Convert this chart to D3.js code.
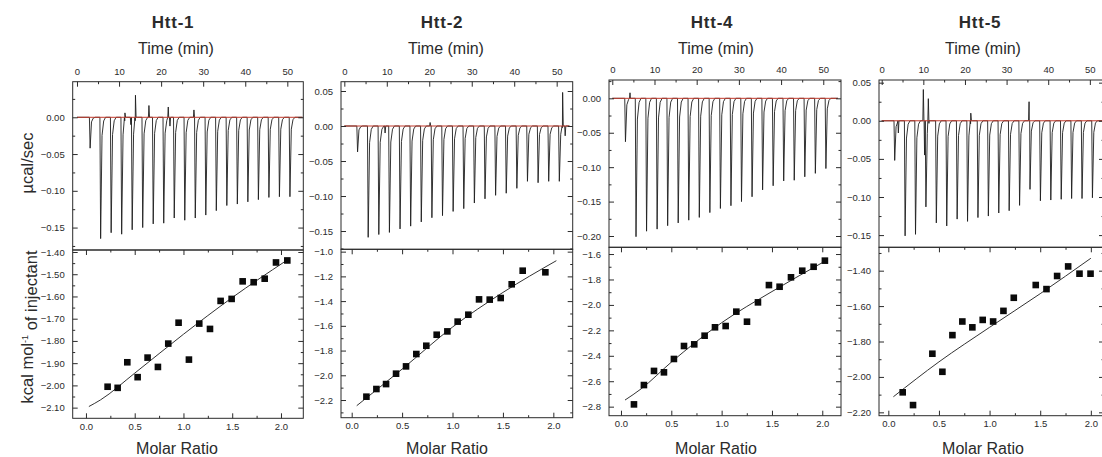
<!DOCTYPE html>
<html><head><meta charset="utf-8">
<script src="https://cdn.jsdelivr.net/npm/d3@7"></script>
<style>body{margin:0;background:#fff}svg{display:block}text{font-family:"Liberation Sans",Arial,sans-serif;fill:#2b2b2b}</style>
</head><body><svg id="c" width="1102" height="457"></svg>
<script>
// ---------- data ----------
const titles = ["Htt-1", "Htt-2", "Htt-4", "Htt-5"];
const injTimes = [3.0,5.5,8.0,10.5,13.0,15.5,18.0,20.5,23.0,25.5,28.0,30.5,33.0,35.5,38.0,40.5,43.0,45.5,48.0,50.5];
const timeTicks = [0,10,20,30,40,50];
const ratioTicks = [0,0.5,1.0,1.5,2.0];

const htt1Peaks = [-0.042,-0.165,-0.157,-0.159,-0.153,-0.150,-0.145,-0.144,-0.137,-0.140,-0.137,-0.133,-0.127,-0.120,-0.118,-0.115,-0.112,-0.109,-0.108,-0.108];
const htt2Peaks = [-0.037,-0.159,-0.155,-0.152,-0.147,-0.143,-0.137,-0.131,-0.128,-0.122,-0.118,-0.110,-0.104,-0.099,-0.096,-0.089,-0.079,-0.081,-0.079,-0.079];
const htt4Peaks = [-0.063,-0.201,-0.193,-0.190,-0.185,-0.181,-0.177,-0.173,-0.166,-0.160,-0.156,-0.150,-0.143,-0.133,-0.127,-0.120,-0.119,-0.114,-0.109,-0.102];
const htt5Peaks = [-0.052,-0.151,-0.149,-0.113,-0.134,-0.138,-0.129,-0.132,-0.127,-0.125,-0.121,-0.118,-0.111,-0.090,-0.105,-0.104,-0.103,-0.102,-0.102,-0.101];

const htt1Spikes = [[11.4,0.006],[12.8,-0.010],[13.9,0.030],[17.1,0.016],[21.7,0.014],[22.1,-0.012],[27.8,0.010]];
const htt2Spikes = [[9.6,-0.010],[20.2,0.005],[51.4,0.048],[52.0,-0.014]];
const htt4Spikes = [[4.2,0.008]];
const htt5Spikes = [[4.0,-0.016],[10.0,0.041],[10.3,-0.045],[11.2,0.029],[21.4,0.010],[35.4,0.025]];

const htt1Ratio = [0.222,0.325,0.424,0.530,0.632,0.738,0.844,0.950,1.056,1.162,1.272,1.381,1.494,1.607,1.720,1.833,1.949,2.065];
const htt1Heat  = [-2.006,-2.011,-1.896,-1.963,-1.875,-1.917,-1.812,-1.718,-1.884,-1.722,-1.746,-1.620,-1.611,-1.532,-1.536,-1.520,-1.447,-1.438];
const htt2Ratio = [0.146,0.245,0.341,0.440,0.539,0.641,0.740,0.843,0.949,1.051,1.157,1.263,1.369,1.478,1.587,1.696,1.921];
const htt2Heat  = [-2.173,-2.111,-2.071,-1.987,-1.928,-1.828,-1.761,-1.672,-1.645,-1.566,-1.510,-1.386,-1.388,-1.375,-1.264,-1.154,-1.167];
const htt4Ratio = [0.129,0.228,0.328,0.427,0.526,0.626,0.728,0.831,0.934,1.040,1.146,1.252,1.361,1.470,1.576,1.689,1.801,1.914,2.026];
const htt4Heat  = [-2.782,-2.630,-2.519,-2.530,-2.425,-2.323,-2.310,-2.242,-2.176,-2.166,-2.053,-2.132,-1.980,-1.844,-1.857,-1.783,-1.731,-1.700,-1.652];
const htt5Ratio = [0.142,0.244,0.435,0.534,0.633,0.731,0.830,0.932,1.035,1.137,1.239,1.456,1.562,1.667,1.776,1.888,1.997];
const htt5Heat  = [-2.087,-2.159,-1.869,-1.971,-1.764,-1.687,-1.720,-1.678,-1.687,-1.627,-1.553,-1.481,-1.504,-1.430,-1.376,-1.417,-1.417];

const htt1FitX = [0.03,0.15,0.5,1.0,1.5,2.05];
const htt1FitY = [-2.095,-2.065,-1.945,-1.770,-1.605,-1.440];
const htt2FitX = [0.05,0.5,1.0,1.5,2.03];
const htt2FitY = [-2.246,-1.950,-1.610,-1.330,-1.073];
const htt4FitX = [0.04,0.2,0.5,1.0,1.5,2.04];
const htt4FitY = [-2.748,-2.660,-2.450,-2.140,-1.895,-1.650];
const htt5FitX = [0.05,0.5,1.0,1.5,2.0];
const htt5FitY = [-2.112,-1.915,-1.720,-1.530,-1.330];

const rawTicks1 = [0.00,-0.05,-0.10,-0.15];
const rawTicks2 = [0.05,0.00,-0.05,-0.10,-0.15];
const rawTicks4 = [0.00,-0.05,-0.10,-0.15,-0.20];
const rawTicks5 = [0.05,0.00,-0.05,-0.10,-0.15];
const heatTicks1 = [-1.4,-1.5,-1.6,-1.7,-1.8,-1.9,-2.0,-2.1];
const heatTicks2 = [-1.0,-1.2,-1.4,-1.6,-1.8,-2.0,-2.2];
const heatTicks4 = [-1.6,-1.8,-2.0,-2.2,-2.4,-2.6,-2.8];
const heatTicks5 = [-1.4,-1.6,-1.8,-2.0,-2.2];

// ---------- layout ----------
const panels = [
 {title:titles[0], peaks:htt1Peaks, spikes:htt1Spikes, mr:htt1Ratio, heat:htt1Heat, fx:htt1FitX, fy:htt1FitY,
  rawTicks:rawTicks1, heatTicks:heatTicks1, heatFmt:".2f", hMinor:0.05,
  x0:72.7, x1:303.3, yT:81.7, yM:250, yB:418.3, tDom:[-1.02,53.8], tEnd:53.6, rDom:[-0.1805,0.0484],
  mDom:[-0.136,2.229], hDom:[-2.148,-1.391], titleX:173, timeX:176, molX:177},
 {title:titles[1], peaks:htt2Peaks, spikes:htt2Spikes, mr:htt2Ratio, heat:htt2Heat, fx:htt2FitX, fy:htt2FitY,
  rawTicks:rawTicks2, heatTicks:heatTicks2, heatFmt:".1f", hMinor:0.1,
  x0:341, x1:572.7, yT:81.7, yM:249.3, yB:417.7, tDom:[-0.78,53.77], tEnd:53.0, rDom:[-0.1761,0.0633],
  mDom:[-0.106,2.192], hDom:[-2.343,-0.981], titleX:442, timeX:446, molX:447},
 {title:titles[2], peaks:htt4Peaks, spikes:htt4Spikes, mr:htt4Ratio, heat:htt4Heat, fx:htt4FitX, fy:htt4FitY,
  rawTicks:rawTicks4, heatTicks:heatTicks4, heatFmt:".1f", hMinor:0.1,
  x0:609, x1:841, yT:80, yM:247.3, yB:415.7, tDom:[-0.78,54.2], tEnd:53.5, rDom:[-0.2164,0.0266],
  mDom:[-0.119,2.186], hDom:[-2.871,-1.547], titleX:712, timeX:716, molX:716},
 {title:titles[3], peaks:htt5Peaks, spikes:htt5Spikes, mr:htt5Ratio, heat:htt5Heat, fx:htt5FitX, fy:htt5FitY,
  rawTicks:rawTicks5, heatTicks:heatTicks5, heatFmt:".2f", hMinor:0.1,
  x0:879, x1:1104, yT:80, yM:247.3, yB:415.7, tDom:[-0.65,53.4], tEnd:53.4, rDom:[-0.166,0.0535],
  mDom:[-0.092,2.13], hDom:[-2.219,-1.268], titleX:980, timeX:983, molX:983}
];

const svg = d3.select("#c");
const defs = svg.append("defs");
const ink = "#2b2b2b";
const minorVals = (dom, step) => { const a=[]; const lo=Math.ceil(Math.min(...dom)/step-1e-6), hi=Math.floor(Math.max(...dom)/step+1e-6); for(let k=lo;k<=hi;k++) a.push(+(k*step).toFixed(6)); return a; };

function styleAxis(sel, labelSize){
  sel.select(".domain").remove();
  sel.selectAll(".tick line").attr("stroke", ink).attr("stroke-width", 1);
  sel.selectAll(".tick text").attr("fill", "#333").style("font-size", labelSize+"px");
}

panels.forEach((p, i) => {
  const g = svg.append("g");
  const tx = d3.scaleLinear().domain(p.tDom).range([p.x0, p.x1]);
  const ry = d3.scaleLinear().domain(p.rDom).range([p.yM, p.yT]);
  const mx = d3.scaleLinear().domain(p.mDom).range([p.x0, p.x1]);
  const hy = d3.scaleLinear().domain(p.hDom).range([p.yB, p.yM]);

  const cid = "clip" + i, cid2 = "clipb" + i;
  defs.append("clipPath").attr("id", cid).append("rect").attr("x", p.x0).attr("y", p.yT).attr("width", p.x1 - p.x0).attr("height", p.yM - p.yT);
  defs.append("clipPath").attr("id", cid2).append("rect").attr("x", p.x0).attr("y", p.yM).attr("width", p.x1 - p.x0).attr("height", p.yB - p.yM);

  // thermogram trace
  const pts = [[0, 0]];
  injTimes.forEach((t, k) => {
    const d = p.peaks[k];
    pts.push([t - 0.05, 0], [t + 0.12, d], [t + 0.45, d * 0.15], [t + 0.85, d * 0.03], [t + 1.3, 0]);
  });
  p.spikes.forEach(([t, v]) => { pts.push([t - 0.12, 0], [t, v], [t + 0.15, 0]); });
  pts.push([p.tEnd, 0]);
  pts.sort((a, b) => a[0] - b[0]);
  const line = d3.line().x(d => tx(d[0])).y(d => ry(d[1]));
  g.append("path").attr("clip-path", `url(#${cid})`).attr("d", line(pts))
    .attr("fill", "none").attr("stroke", "#1e1e1e").attr("stroke-width", 0.9).attr("stroke-linejoin", "round");
  g.append("path").attr("clip-path", `url(#${cid})`).attr("d", line([[0, 0], [p.tEnd, 0]]))
    .attr("fill", "none").attr("stroke", "#c0392b").attr("stroke-width", 1);

  // isotherm fit + points
  const fit = p.fx.map((x, k) => [x, p.fy[k]]);
  g.append("path").attr("clip-path", `url(#${cid2})`)
    .attr("d", d3.line().x(d => mx(d[0])).y(d => hy(d[1])).curve(d3.curveMonotoneX)(fit))
    .attr("fill", "none").attr("stroke", "#333").attr("stroke-width", 1);
  const s = 6.6;
  g.selectAll("rect.pt").data(p.mr.map((x, k) => [x, p.heat[k]])).join("rect").attr("class", "pt")
    .attr("x", d => mx(d[0]) - s / 2).attr("y", d => hy(d[1]) - s / 2).attr("width", s).attr("height", s).attr("fill", "#0a0a0a");

  // boxes
  g.append("rect").attr("x", p.x0).attr("y", p.yT).attr("width", p.x1 - p.x0).attr("height", p.yM - p.yT)
    .attr("fill", "none").attr("stroke", ink).attr("stroke-width", 1);
  g.append("rect").attr("x", p.x0).attr("y", p.yM).attr("width", p.x1 - p.x0).attr("height", p.yB - p.yM)
    .attr("fill", "none").attr("stroke", ink).attr("stroke-width", 1);

  const LS = 9.5;
  // top panel axes
  g.append("g").attr("transform", `translate(0,${p.yT})`).call(d3.axisTop(tx).tickValues(timeTicks).tickSize(-5).tickPadding(7).tickFormat(d3.format("d"))).call(a => styleAxis(a, LS));
  g.append("g").attr("transform", `translate(0,${p.yT})`).call(d3.axisTop(tx).tickValues(minorVals(p.tDom, 5).filter(v => v % 10 !== 0)).tickSize(-2.5).tickFormat("")).call(a => styleAxis(a, LS));
  g.append("g").attr("transform", `translate(${p.x0},0)`).call(d3.axisLeft(ry).tickValues(p.rawTicks).tickSize(-5).tickPadding(8).tickFormat(d3.format(".2f"))).call(a => styleAxis(a, LS));
  const rMinor = minorVals(p.rDom, 0.025).filter(v => Math.abs(Math.round(v / 0.05) * 0.05 - v) > 1e-6);
  g.append("g").attr("transform", `translate(${p.x0},0)`).call(d3.axisLeft(ry).tickValues(rMinor).tickSize(-2.5).tickFormat("")).call(a => styleAxis(a, LS));
  g.append("g").attr("transform", `translate(${p.x1},0)`).call(d3.axisRight(ry).tickValues(p.rawTicks).tickSize(-5).tickFormat("")).call(a => styleAxis(a, LS));
  g.append("g").attr("transform", `translate(${p.x1},0)`).call(d3.axisRight(ry).tickValues(rMinor).tickSize(-2.5).tickFormat("")).call(a => styleAxis(a, LS));

  // bottom panel axes
  const mMinor = minorVals(p.mDom, 0.25).filter(v => Math.abs(Math.round(v / 0.5) * 0.5 - v) > 1e-6);
  g.append("g").attr("transform", `translate(0,${p.yB})`).call(d3.axisBottom(mx).tickValues(ratioTicks).tickSize(-5).tickPadding(5).tickFormat(d3.format(".1f"))).call(a => styleAxis(a, LS));
  g.append("g").attr("transform", `translate(0,${p.yB})`).call(d3.axisBottom(mx).tickValues(mMinor).tickSize(-2.5).tickFormat("")).call(a => styleAxis(a, LS));
  g.append("g").attr("transform", `translate(0,${p.yM})`).call(d3.axisTop(mx).tickValues(ratioTicks).tickSize(-5).tickFormat("")).call(a => styleAxis(a, LS));
  g.append("g").attr("transform", `translate(0,${p.yM})`).call(d3.axisTop(mx).tickValues(mMinor).tickSize(-2.5).tickFormat("")).call(a => styleAxis(a, LS));
  const major = p.hMinor * 2;
  const hMinor = minorVals(p.hDom, p.hMinor).filter(v => Math.abs(Math.round(v / major) * major - v) > 1e-6);
  g.append("g").attr("transform", `translate(${p.x0},0)`).call(d3.axisLeft(hy).tickValues(p.heatTicks).tickSize(-5).tickPadding(8).tickFormat(d3.format(p.heatFmt))).call(a => styleAxis(a, LS));
  g.append("g").attr("transform", `translate(${p.x0},0)`).call(d3.axisLeft(hy).tickValues(hMinor).tickSize(-2.5).tickFormat("")).call(a => styleAxis(a, LS));
  g.append("g").attr("transform", `translate(${p.x1},0)`).call(d3.axisRight(hy).tickValues(p.heatTicks).tickSize(-5).tickFormat("")).call(a => styleAxis(a, LS));
  g.append("g").attr("transform", `translate(${p.x1},0)`).call(d3.axisRight(hy).tickValues(hMinor).tickSize(-2.5).tickFormat("")).call(a => styleAxis(a, LS));

  // texts
  g.append("text").attr("x", p.titleX).attr("y", 28).attr("text-anchor", "middle")
    .style("font-size", "17px").style("font-weight", "bold").style("letter-spacing", "0.8px").text(p.title);
  g.append("text").attr("x", p.timeX).attr("y", 54).attr("text-anchor", "middle")
    .style("font-size", "16px").attr("fill", "#333").text("Time (min)");
  g.append("text").attr("x", p.molX).attr("y", 454).attr("text-anchor", "middle")
    .style("font-size", "16px").attr("fill", "#333").text("Molar Ratio");
});

// y-axis titles
svg.append("text").attr("transform", "translate(27,163) rotate(-90)").attr("text-anchor", "middle").attr("dy", "0.35em")
  .style("font-size", "16.5px").attr("fill", "#333").text("µcal/sec");
const yl = svg.append("text").attr("transform", "translate(27,327) rotate(-90)").attr("text-anchor", "middle").attr("dy", "0.35em")
  .style("font-size", "16.5px").attr("fill", "#333");
yl.append("tspan").text("kcal mol");
yl.append("tspan").attr("dy", "-0.5em").style("font-size", "9px").text("-1");
yl.append("tspan").attr("dy", "0.5em").text(" of injectant");
</script>
</body></html>
